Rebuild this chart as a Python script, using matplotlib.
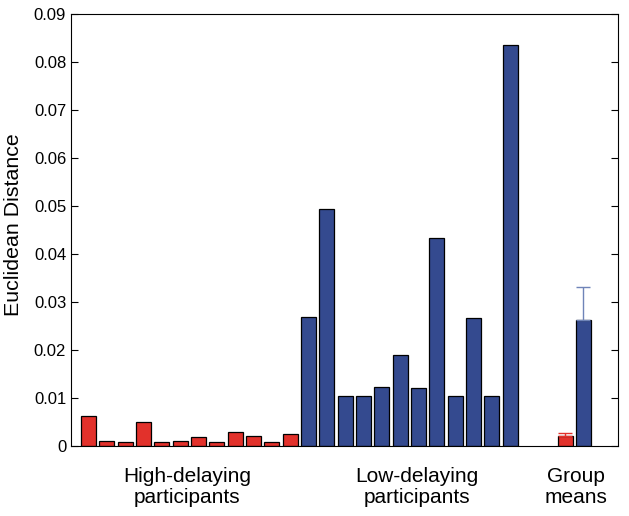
import matplotlib
matplotlib.use("Agg")
from matplotlib import pyplot as plt
from matplotlib import transforms

# values
high_delay = [0.0062, 0.0010, 0.0008, 0.0050, 0.0007, 0.0010,
              0.0019, 0.0009, 0.0028, 0.0020, 0.0008, 0.0025]
low_delay = [0.0269, 0.0493, 0.0103, 0.0103, 0.0123, 0.0189,
             0.0120, 0.0434, 0.0103, 0.0267, 0.0103, 0.0836]
group_means = [0.00215, 0.0262]
group_err_up = [0.00045, 0.0068]
group_labels = ["High-delaying\nparticipants", "Low-delaying\nparticipants", "Group\nmeans"]
yticks = [0, 0.01, 0.02, 0.03, 0.04, 0.05, 0.06, 0.07, 0.08, 0.09]

RED = "#E2312B"
BLUE = "#344A8F"


def main():
    plt.rcParams['font.family'] = ['Liberation Sans', 'DejaVu Sans']

    fig = plt.figure(figsize=(6.29, 5.16), dpi=100)
    ax = fig.add_axes([0.113, 0.136, 0.870, 0.837])

    w = 0.82
    x_high = list(range(len(high_delay)))
    x_low = [len(high_delay) + i for i in range(len(low_delay))]
    x_mean = [x_low[-1] + 3, x_low[-1] + 4]

    ax.bar(x_high, high_delay, width=w, color=RED, edgecolor='black', linewidth=0.9)
    ax.bar(x_low, low_delay, width=w, color=BLUE, edgecolor='black', linewidth=0.9)
    ax.bar(x_mean, group_means, width=w, color=[RED, BLUE], edgecolor='black', linewidth=0.9)
    ax.errorbar([x_mean[0]], [group_means[0]], yerr=[[0], [group_err_up[0]]],
                fmt='none', ecolor=RED, elinewidth=1, capsize=5, capthick=1)
    ax.errorbar([x_mean[1]], [group_means[1]], yerr=[[0], [group_err_up[1]]],
                fmt='none', ecolor='#6F84B8', elinewidth=1, capsize=5, capthick=1)

    ax.set_xlim(-0.95, 28.9)
    ax.set_ylim(0, 0.09)
    ax.set_xticks([])
    ax.set_yticks(yticks)
    ax.set_yticklabels(["0"] + ["%.2f" % t for t in yticks[1:]])
    ax.tick_params(axis='y', direction='in', length=5, right=True, labelsize=12, width=0.8)
    ax.set_ylabel("Euclidean Distance", fontsize=15.4)
    ax.yaxis.set_label_coords(-0.088, 0.513)
    for s in ax.spines.values():
        s.set_linewidth(0.8)

    trans = transforms.blended_transform_factory(ax.transData, fig.transFigure)
    centers = [5.4, 17.9, 26.6]
    for c, lab in zip(centers, group_labels):
        ax.text(c, 0.095, lab, transform=trans, ha='center', va='top',
                fontsize=15, linespacing=1.15)

    fig.savefig("out.png", dpi=100)


if __name__ == "__main__":
    main()
